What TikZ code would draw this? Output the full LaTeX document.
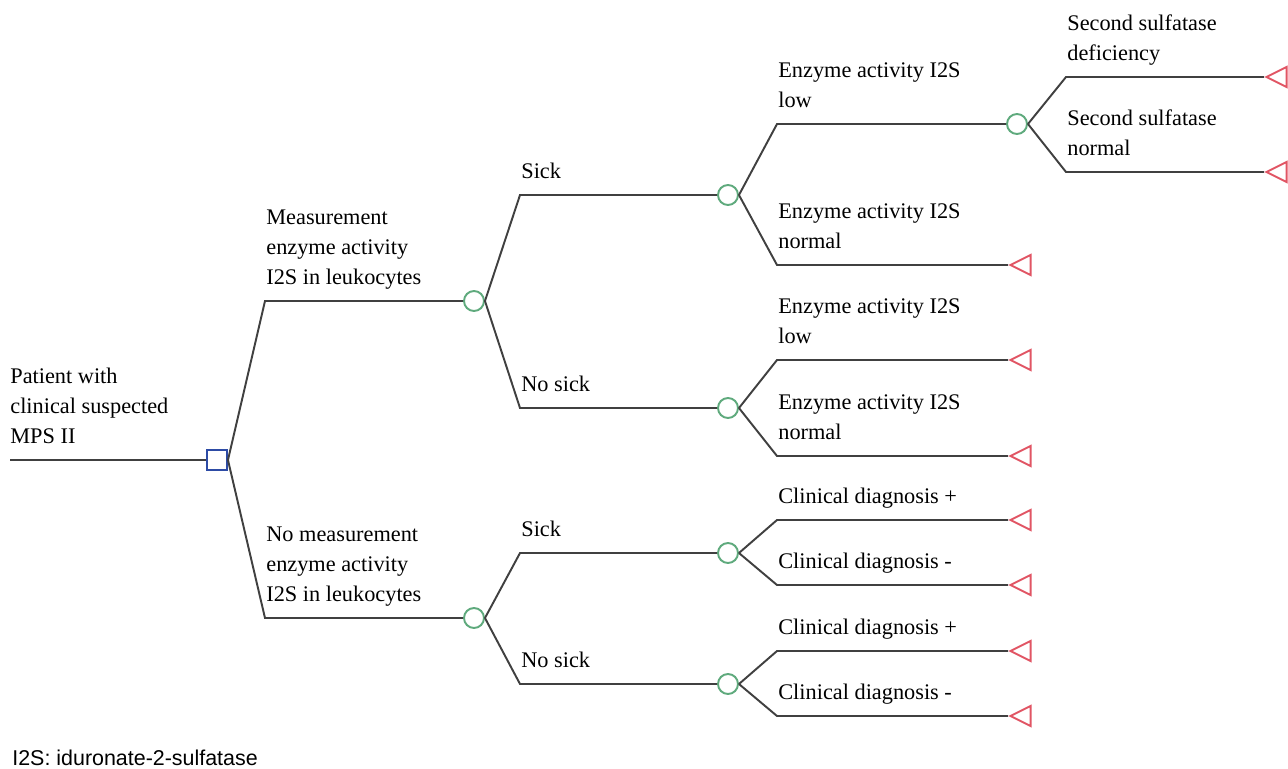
\documentclass[tikz,border=0pt]{standalone}
\usepackage{fontspec}
\setmainfont{Liberation Serif}
\setsansfont{Liberation Sans}
\usetikzlibrary{shapes.geometric,calc}

\definecolor{decblue}{RGB}{45,75,165}
\definecolor{chgreen}{RGB}{95,170,125}
\definecolor{termred}{RGB}{225,85,100}

\tikzset{
  branch/.style={draw=black!75,line width=1.1pt},
  decision/.style={draw=decblue,fill=white,line width=1.1pt,rectangle,minimum size=0.4cm,inner sep=0},
  chance/.style={draw=chgreen,fill=white,line width=1.1pt,circle,minimum size=0.4cm,inner sep=0},
  terminal/.style={draw=termred,fill=white,line width=1.1pt,isosceles triangle,shape border rotate=180,
    isosceles triangle stretches,minimum width=0.4cm,minimum height=0.4cm,inner sep=0,anchor=apex},
  lbl/.style={anchor=south west,inner sep=0,align=left,font=\rmfamily\fontsize{12.7}{17.07}\selectfont,
    execute at end node=\strut}
}

\begin{document}
\begin{tikzpicture}[x=0.02cm,y=-0.02cm]
\useasboundingbox (0,0) rectangle (1288,768);
%root
\coordinate (start) at (10,460);
\node[decision] (D) at (217,460) {};
\draw[branch] (start) -- (D.west);
\node[lbl] (Lstart) at ([shift={(0,-7)}]start) {Patient with\\clinical suspected\\MPS II};
%chance nodes
\foreach \name/\x/\y in {C1/474/301,C2/474/618,C11/728/195,C12/728/408,C21/728/553,C22/728/684,C111/1017/124} {
  \node[chance] (\name) at (\x,\y) {};
}
%terminals
\foreach \name/\x/\y in {T1/1264/77,T2/1264/172,T3/1008/265,T4/1008/360,T5/1008/456,T6/1008/520,T7/1008/585,T8/1008/651,T9/1008/716} {
  \node[terminal] (\name) at (\x,\y) {};
}
%branches
\foreach \from/\to/\ex/\ey/\txt in {
  D/C1/265/301/{Measurement\\enzyme activity\\I2S in leukocytes},
  D/C2/265/618/{No measurement\\enzyme activity\\I2S in leukocytes},
  C1/C11/520/195/{Sick},
  C1/C12/520/408/{No sick},
  C2/C21/520/553/{Sick},
  C2/C22/520/684/{No sick},
  C11/C111/777/124/{Enzyme activity I2S\\low},
  C11/T3/777/265/{Enzyme activity I2S\\normal},
  C111/T1/1066/77/{Second sulfatase\\deficiency},
  C111/T2/1066/172/{Second sulfatase\\normal},
  C12/T4/777/360/{Enzyme activity I2S\\low},
  C12/T5/777/456/{Enzyme activity I2S\\normal},
  C21/T6/777/520/{Clinical diagnosis +},
  C21/T7/777/585/{Clinical diagnosis -},
  C22/T8/777/651/{Clinical diagnosis +},
  C22/T9/777/716/{Clinical diagnosis -}} {
  \coordinate (E\to) at (\ex,\ey);
  \draw[branch] (\from.east) -- (E\to) -- (\to);
  \node[lbl] (L\to) at ([shift={(1,-7)}]E\to) {\txt};
}
%note
\node[anchor=west,inner sep=0,font=\sffamily\fontsize{12.2}{14}\selectfont] (note) at (12,758) {I2S: iduronate-2-sulfatase};
\end{tikzpicture}
\end{document}
